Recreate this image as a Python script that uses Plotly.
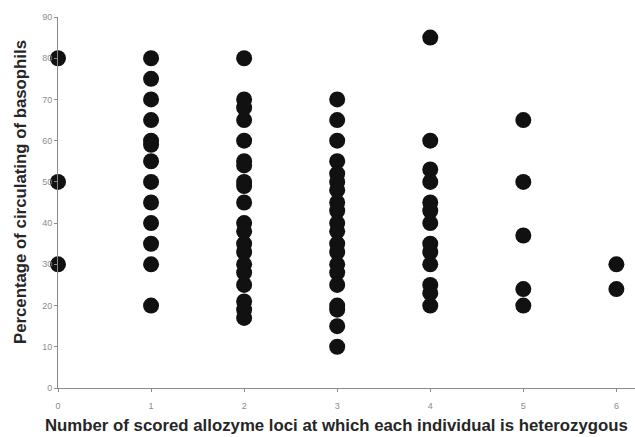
import plotly.graph_objects as go

# Percentage of circulating basophils, grouped by number of heterozygous loci
loci_0 = [80, 50, 30]
loci_1 = [80, 75, 70, 65, 60, 59, 55, 50, 45, 40, 35, 30, 20]
loci_2 = [80, 70, 68, 65, 60, 55, 54, 50, 49, 45, 40, 38, 35, 33, 30, 28, 25, 21, 19, 17]
loci_3 = [70, 65, 60, 55, 52, 50, 48, 45, 43, 40, 38, 35, 33, 30, 28, 25, 20, 19, 15, 10]
loci_4 = [85, 60, 53, 50, 45, 43, 40, 35, 33, 30, 25, 23, 20]
loci_5 = [65, 50, 37, 24, 20]
loci_6 = [30, 24]

groups = [loci_0, loci_1, loci_2, loci_3, loci_4, loci_5, loci_6]
x_vals = [i for i, g in enumerate(groups) for _ in g]
y_vals = [v for g in groups for v in g]

x_ticks = [0, 1, 2, 3, 4, 5, 6]
y_ticks = [0, 10, 20, 30, 40, 50, 60, 70, 80, 90]

fig = go.Figure(
    go.Scatter(
        x=x_vals,
        y=y_vals,
        mode="markers",
        marker=dict(size=16, color="#111111", line=dict(width=0)),
        cliponaxis=False,
        hoverinfo="x+y",
    )
)

axis_common = dict(
    showgrid=False,
    zeroline=False,
    showline=True,
    linecolor="#8a8a8a",
    linewidth=1,
    ticks="outside",
    ticklen=3,
    tickcolor="#8a8a8a",
    tickfont=dict(family="Liberation Sans, Arial, sans-serif", size=9, color="#8c8c8c"),
)

fig.update_xaxes(range=[0, 6.2], tickvals=x_ticks, ticklabelstandoff=6, **axis_common)
fig.update_yaxes(range=[0, 90], tickvals=y_ticks, **axis_common)

title_font = dict(family="Liberation Sans, Arial, sans-serif", size=16.8, color="#262626")
fig.add_annotation(
    text="<b>Number of scored allozyme loci at which each individual is heterozygous</b>",
    xref="paper", yref="paper", x=0.482, y=-0.1, xanchor="center", yanchor="middle",
    showarrow=False, font=title_font,
)
fig.add_annotation(
    text="<b>Percentage of circulating of basophils</b>",
    xref="paper", yref="paper", x=-0.066, y=0.528, xanchor="center", yanchor="middle",
    textangle=-90, showarrow=False, font=title_font,
)

fig.update_layout(
    width=635,
    height=437,
    margin=dict(l=58, r=0, t=17, b=49),
    plot_bgcolor="white",
    paper_bgcolor="white",
    showlegend=False,
)

fig.write_html("out.html")
